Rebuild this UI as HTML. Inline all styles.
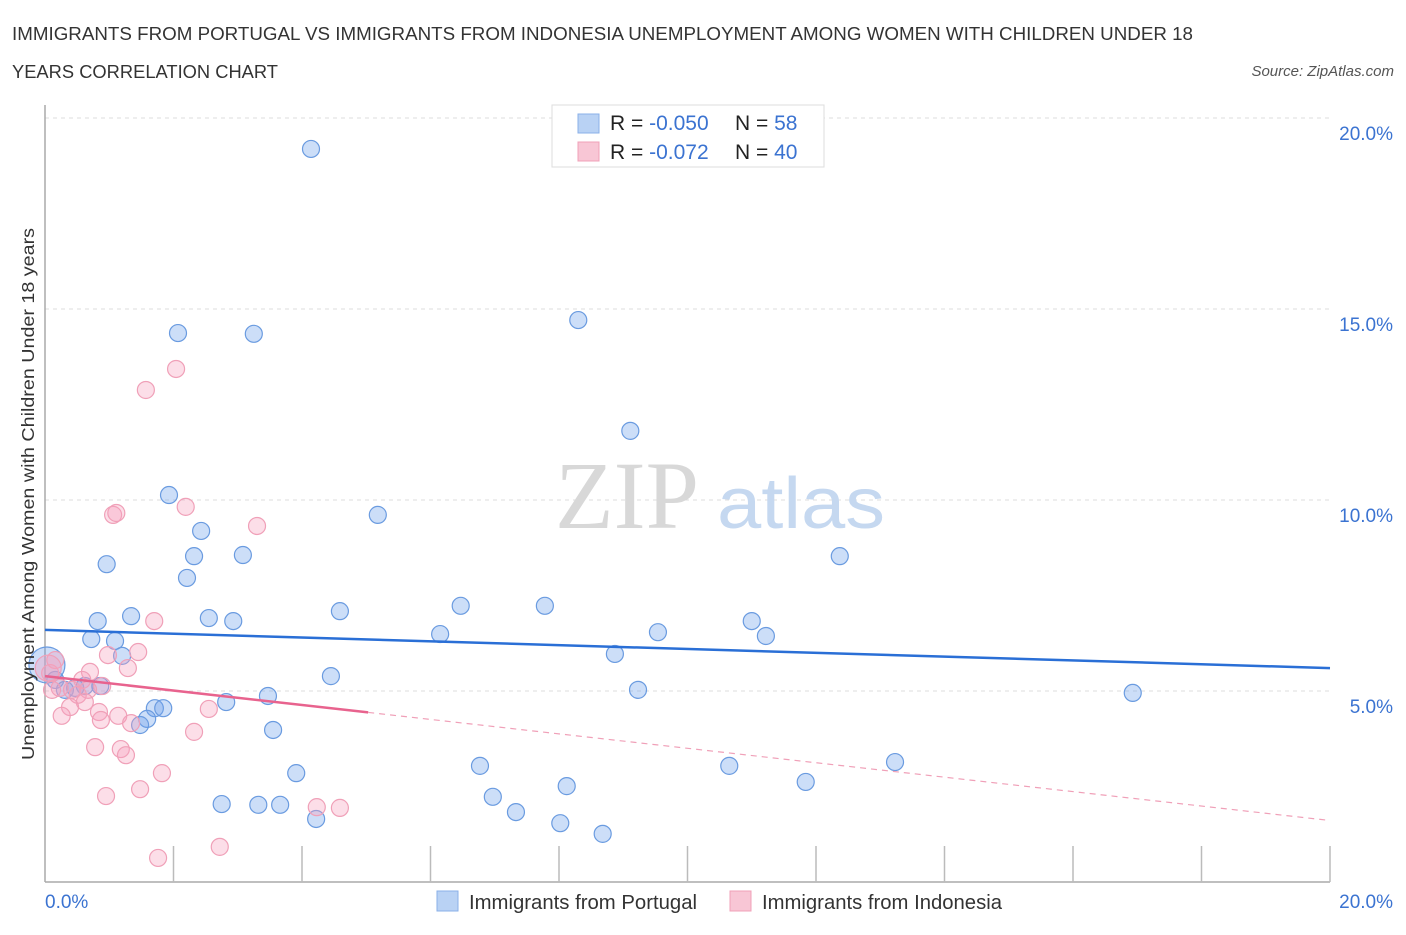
<!DOCTYPE html>
<html><head><meta charset="utf-8"><style>
body{margin:0;background:#fff;font-family:"Liberation Sans",sans-serif}
</style></head><body>
<svg width="1406" height="930" xmlns="http://www.w3.org/2000/svg">
<text x="12" y="40" font-size="18" fill="#333" textLength="1181" lengthAdjust="spacingAndGlyphs">IMMIGRANTS FROM PORTUGAL VS IMMIGRANTS FROM INDONESIA UNEMPLOYMENT AMONG WOMEN WITH CHILDREN UNDER 18</text>
<text x="12" y="78" font-size="18" fill="#333" textLength="266" lengthAdjust="spacingAndGlyphs">YEARS CORRELATION CHART</text>
<text x="1394" y="76" font-size="15" fill="#555" font-style="italic" text-anchor="end">Source: ZipAtlas.com</text>
<g id="grid"></g>
<text x="555" y="528" font-size="96" font-family="Liberation Serif,serif" fill="#d8d8d8">ZIP</text>
<text x="717" y="528" font-size="72" fill="#c5d8f0" textLength="168" lengthAdjust="spacingAndGlyphs">atlas</text>
<line x1="45" y1="105" x2="45" y2="882" stroke="#aaa" stroke-width="1.5"/>
<line x1="45" y1="882" x2="1330" y2="882" stroke="#aaa" stroke-width="1.5"/>
<g id="ticks"></g>
<g id="pts"></g>
<g id="lines"></g>
<text transform="translate(34,494) rotate(-90)" font-size="17.5" fill="#333" text-anchor="middle" textLength="532" lengthAdjust="spacingAndGlyphs">Unemployment Among Women with Children Under 18 years</text>
<text x="45" y="908" font-size="19" fill="#3b73d1">0.0%</text>
<text x="1393" y="908" font-size="19" fill="#3b73d1" text-anchor="end">20.0%</text>
<g>
<rect x="552" y="105" width="272" height="62" fill="#fff" stroke="#ddd"/>
<rect x="578" y="114" width="21" height="19" fill="#b9d2f4" stroke="#8ab0e8"/>
<rect x="578" y="142" width="21" height="19" fill="#f8c6d5" stroke="#f0a0b8"/>
<text x="610" y="130" font-size="21" fill="#222">R = <tspan fill="#3b73d1">-0.050</tspan></text>
<text x="735" y="130" font-size="21" fill="#222">N = <tspan fill="#3b73d1"> 58</tspan></text>
<text x="610" y="159" font-size="21" fill="#222">R = <tspan fill="#3b73d1"> -0.072</tspan></text>
<text x="735" y="159" font-size="21" fill="#222">N = <tspan fill="#3b73d1">40</tspan></text>
</g>
<g>
<rect x="437" y="891" width="21" height="20" fill="#b9d2f4" stroke="#8ab0e8"/>
<text x="469" y="909" font-size="20" fill="#333" textLength="228" lengthAdjust="spacingAndGlyphs">Immigrants from Portugal</text>
<rect x="730" y="891" width="21" height="20" fill="#f8c6d5" stroke="#f0a0b8"/>
<text x="762" y="909" font-size="20" fill="#333" textLength="240" lengthAdjust="spacingAndGlyphs">Immigrants from Indonesia</text>
</g>
</svg>
<script>
const yTicks=[5,10,15,20];
const yTickLabels=["5.0%","10.0%","15.0%","20.0%"];
const xTickVals=[2,4,6,8,10,12,14,16,18,20];
const blueX=[4.14,2.07,3.25,8.30,9.11,1.93,5.18,2.43,2.32,3.08,0.96,12.37,2.21,1.34,0.82,2.55,2.93,4.59,6.47,7.78,11.00,0.72,1.09,6.15,9.54,11.22,1.20,8.87,4.45,9.23,3.47,16.93,2.82,1.71,1.84,1.59,1.48,3.55,6.77,10.65,13.23,3.91,8.12,11.84,6.97,2.75,3.32,3.66,7.33,4.22,8.02,8.68,0.03,0.16,0.31,0.47,0.62,0.86];
const blueY=[19.19,14.37,14.35,14.71,11.81,10.13,9.61,9.19,8.53,8.56,8.32,8.53,7.96,6.96,6.83,6.91,6.83,7.09,7.23,7.23,6.83,6.36,6.31,6.49,6.54,6.44,5.92,5.97,5.39,5.03,4.87,4.95,4.71,4.55,4.55,4.27,4.11,3.98,3.04,3.04,3.14,2.85,2.51,2.62,2.23,2.04,2.02,2.02,1.83,1.65,1.54,1.26,5.68,5.29,5.03,5.08,5.13,5.13];
const pinkX=[2.04,1.57,2.19,1.06,1.11,3.30,1.70,1.45,0.98,0.70,1.29,0.58,0.89,0.67,0.42,0.23,0.08,0.16,0.51,0.62,0.39,0.26,0.84,0.87,1.14,1.34,2.55,2.32,0.78,1.18,1.26,1.82,1.48,0.95,4.23,4.59,1.76,2.72,0.05,0.11];
const pinkY=[13.43,12.88,9.82,9.61,9.66,9.32,6.83,6.02,5.94,5.50,5.60,5.29,5.13,5.03,5.03,5.08,5.47,5.81,4.90,4.71,4.58,4.35,4.45,4.24,4.35,4.16,4.53,3.93,3.53,3.48,3.32,2.85,2.43,2.25,1.96,1.94,0.63,0.92,5.60,5.03];
const blueTrend=[6.6,5.6];
const pinkTrend=[5.39,-0.189];
const pinkSolidEnd=5.03;
const NS="http://www.w3.org/2000/svg";
const X=v=>45+v*64.25, Y=v=>882-v*38.2;
function mk(t,a,p){const e=document.createElementNS(NS,t);for(const k in a)e.setAttribute(k,a[k]);p.appendChild(e);return e;}
const grid=document.getElementById('grid'),ticks=document.getElementById('ticks'),pts=document.getElementById('pts'),lines=document.getElementById('lines');
yTicks.forEach((t,i)=>{
 const l=mk('line',{x1:45,x2:1330,y1:Y(t),y2:Y(t),stroke:'#ddd','stroke-dasharray':'4,4'},grid);
 
 
 const tx=mk('text',{x:1393,y:Y(t)+22,'font-size':19,fill:'#3b73d1','text-anchor':'end'},grid);
 tx.textContent=yTickLabels[i];
 
 
});
xTickVals.forEach(t=>{
 const l=mk('line',{x1:X(t),x2:X(t),y1:846,y2:882,stroke:'#bbb','stroke-width':1.5},ticks);
 
 
});
blueX.forEach((x,i)=>{
 const c=mk('circle',{cx:X(x),cy:Y(blueY[i]),r:i==52?18:8.5,fill:'rgba(110,160,235,0.35)',stroke:'#6a9be0','stroke-width':1.2},pts);
 
 
});
pinkX.forEach((x,i)=>{
 const c=mk('circle',{cx:X(x),cy:Y(pinkY[i]),r:i==38?13:8.5,fill:'rgba(245,160,190,0.35)',stroke:'#f0a0b8','stroke-width':1.2},pts);
 
 
});
const bl=mk('line',{x1:X(0),y1:Y(blueTrend[0]),x2:X(20),y2:Y(blueTrend[1]),stroke:'#2a6fd6','stroke-width':2.5},lines);


const pf=x=>pinkTrend[0]+pinkTrend[1]*x;
const ps=mk('line',{x1:X(0),y1:Y(pf(0)),x2:X(pinkSolidEnd),y2:Y(pf(pinkSolidEnd)),stroke:'#e8638e','stroke-width':2.5},lines);


const pd=mk('line',{x1:X(pinkSolidEnd),y1:Y(pf(pinkSolidEnd)),x2:X(20),y2:Y(pf(20)),stroke:'#f0a0b8','stroke-width':1.2,'stroke-dasharray':'6,5'},lines);


</script>
</body></html>
